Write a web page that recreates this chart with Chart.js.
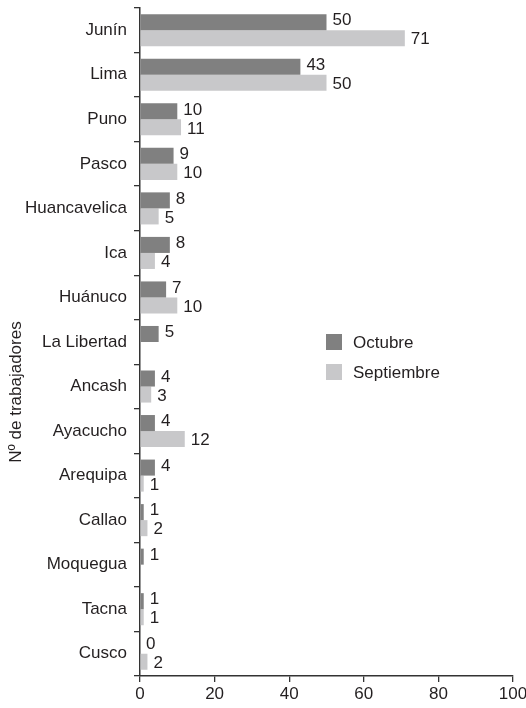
<!DOCTYPE html>
<html>
<head>
<meta charset="utf-8">
<script src="https://cdn.jsdelivr.net/npm/chart.js@4"></script>
<style>
  html, body { margin: 0; padding: 0; background: #fff; }
  #wrap { width: 526px; height: 708px; }
</style>
</head>
<body>
<div id="wrap"><canvas id="chart" width="526" height="708"></canvas></div>
<script>
const regiones = ["Junín", "Lima", "Puno", "Pasco", "Huancavelica", "Ica", "Huánuco",
  "La Libertad", "Ancash", "Ayacucho", "Arequipa", "Callao", "Moquegua", "Tacna", "Cusco"];

const octubre = [50, 43, 10, 9, 8, 8, 7, 5, 4, 4, 4, 1, 1, 1, 0];

const septiembre = [71, 50, 11, 10, 5, 4, 10, null, 3, 12, 1, 2, null, 1, 2];

const xTicks = [0, 20, 40, 60, 80, 100];

const FONT = "'Liberation Sans', Arial, sans-serif";
const TEXT = "#231f20";
const SIZE = 17;

// valores al final de cada barra
const valueLabels = {
  id: "valueLabels",
  afterDatasetsDraw(chart) {
    const ctx = chart.ctx;
    ctx.save();
    ctx.font = SIZE + "px " + FONT;
    ctx.fillStyle = TEXT;
    ctx.textAlign = "left";
    ctx.textBaseline = "middle";
    chart.data.datasets.forEach((ds, i) => {
      const meta = chart.getDatasetMeta(i);
      const dy = i === 0 ? -1.5 : 1.5;
      meta.data.forEach((bar, j) => {
        const v = ds.data[j];
        if (v === null || v === undefined) return;
        ctx.fillText(String(v), bar.x + 6, bar.y + dy);
      });
    });
    ctx.restore();
  },
};

// leyenda dentro del area y titulo del eje
const extras = {
  id: "extras",
  afterDraw(chart) {
    const ctx = chart.ctx;
    ctx.save();
    ctx.font = SIZE + "px " + FONT;
    ctx.textBaseline = "middle";
    chart.data.datasets.forEach((ds, i) => {
      const y = 334 + i * 30;
      ctx.fillStyle = ds.backgroundColor;
      ctx.fillRect(326, y, 16, 16);
      ctx.fillStyle = TEXT;
      ctx.fillText(ds.label, 353, y + 9);
    });
    ctx.translate(16, 392);
    ctx.rotate(-Math.PI / 2);
    ctx.textAlign = "center";
    ctx.fillText("Nº de trabajadores", 0, 0);
    ctx.restore();
  },
};

new Chart(document.getElementById("chart"), {
  type: "bar",
  data: {
    labels: regiones,
    datasets: [
      { label: "Octubre", data: octubre, backgroundColor: "#808080" },
      { label: "Septiembre", data: septiembre, backgroundColor: "#c8c8ca" },
    ],
  },
  options: {
    indexAxis: "y",
    responsive: false,
    animation: false,
    layout: { padding: { top: 8, right: 13, left: 0, bottom: 0 } },
    datasets: { bar: { categoryPercentage: 0.72, barPercentage: 1 } },
    plugins: {
      legend: { display: false },
      tooltip: { enabled: false },
    },
    scales: {
      x: {
        min: 0,
        max: 100,
        afterBuildTicks: (s) => { s.ticks = xTicks.map((v) => ({ value: v })); },
        afterFit: (s) => { s.height = 32; s.paddingRight = 0; s.paddingLeft = 0; },
        grid: { drawOnChartArea: false, tickLength: 6, color: "#333", lineWidth: 1.3 },
        border: { color: "#333", width: 1.5 },
        ticks: { font: { family: FONT, size: SIZE }, color: TEXT, padding: 2 },
      },
      y: {
        afterFit: (s) => { s.width = 140; s.paddingTop = 0; s.paddingBottom = 0; },
        grid: { offset: true, drawOnChartArea: false, tickLength: 6, color: "#333", lineWidth: 1.3 },
        border: { color: "#333", width: 1.5 },
        ticks: { font: { family: FONT, size: SIZE }, color: TEXT, padding: 7 },
      },
    },
  },
  plugins: [valueLabels, extras],
});
</script>
</body>
</html>
